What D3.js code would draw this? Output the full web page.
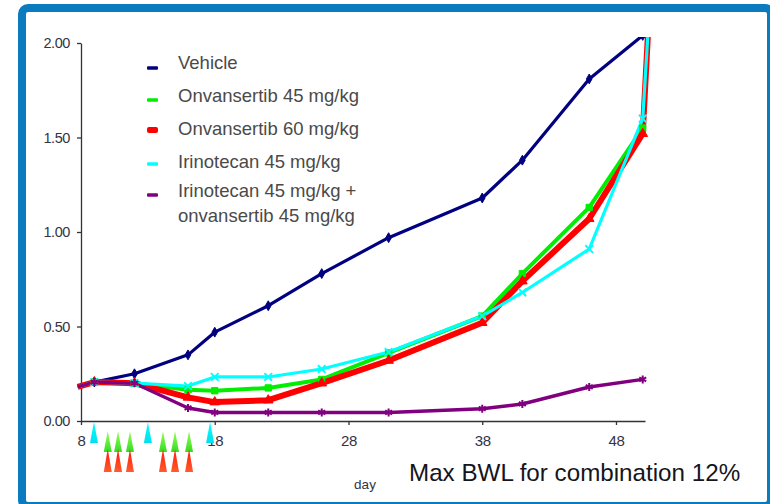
<!DOCTYPE html>
<html><head><meta charset="utf-8">
<script src="https://cdn.jsdelivr.net/npm/d3@7"></script>
<style>body{margin:0;background:#fff;}svg{display:block;font-family:"Liberation Sans",Arial,sans-serif;}</style>
</head><body>
<svg id="chart" width="770" height="504"></svg>
<script>
const days = [7.75, 9, 12, 16, 18, 22, 26, 31, 38, 41, 46, 50, 50.4];
const vehicle   = [0.18, 0.206, 0.25, 0.35, 0.47, 0.61, 0.78, 0.97, 1.18, 1.38, 1.81, 2.04];
const onv45     = [0.18, 0.206, 0.20, 0.165, 0.16, 0.175, 0.22, 0.36, 0.555, 0.78, 1.13, 1.55, 2.06];
const onv60     = [0.18, 0.206, 0.20, 0.125, 0.10, 0.11, 0.20, 0.32, 0.52, 0.74, 1.07, 1.52, 2.06];
const irino     = [0.18, 0.206, 0.20, 0.185, 0.233, 0.233, 0.275, 0.365, 0.555, 0.68, 0.91, 1.60, 2.06];
const combo     = [0.18, 0.206, 0.20, 0.069, 0.045, 0.045, 0.045, 0.045, 0.065, 0.09, 0.18, 0.22];
const seriesNames = ["Vehicle", "Onvansertib 45 mg/kg", "Onvansertib 60 mg/kg", "Irinotecan 45 mg/kg", "Irinotecan 45 mg/kg +\nonvansertib 45 mg/kg"];
const xTicks = [8, 18, 28, 38, 48];
const yTicks = [0, 0.5, 1.0, 1.5, 2.0];
const irinoDoseDays = [8.97, 13.0, 17.65];
const onvDoseDays = [10.0, 10.77, 11.66, 14.13, 15.03, 16.08];
const annotation = "Max BWL for combination 12%";
const xTitle = "day";

const series = [
  {name: seriesNames[0], vals: vehicle, color: "#000080", width: 3.2, sym: d3.symbolDiamond, size: 28, stroke: false},
  {name: seriesNames[1], vals: onv45, color: "#00ee00", width: 4, sym: d3.symbolSquare, size: 40, stroke: false},
  {name: seriesNames[2], vals: onv60, color: "#ff0000", width: 6, sym: d3.symbolTriangle, size: 40, stroke: false},
  {name: seriesNames[3], vals: irino, color: "#00ffff", width: 3.2, sym: d3.symbolTimes, size: 40, stroke: true},
  {name: seriesNames[4], vals: combo, color: "#800080", width: 3.4, sym: d3.symbolAsterisk, size: 45, stroke: true}
];

const svg = d3.select("#chart");
// frame
svg.append("rect").attr("x", 22).attr("y", 8).attr("width", 749).attr("height", 498)
  .attr("rx", 6).attr("fill", "#fff").attr("stroke", "#0a7bbf").attr("stroke-width", 8);

const x = d3.scaleLinear().domain([8, 50.17]).range([81, 645]);
const y = d3.scaleLinear().domain([0, 2]).range([421, 43]);

const defs = svg.append("defs");
defs.append("clipPath").attr("id", "clip").append("rect").attr("x", 60).attr("y", 37).attr("width", 600).attr("height", 400);
function grad(id, c1, c2) {
  const g = defs.append("linearGradient").attr("id", id).attr("x1", 0).attr("y1", 0).attr("x2", 0).attr("y2", 1);
  g.append("stop").attr("offset", "0%").attr("stop-color", c1);
  g.append("stop").attr("offset", "100%").attr("stop-color", c2);
}
grad("gC", "#00ffff", "#00e0ee");
grad("gG", "#99ff55", "#33dd22");
grad("gR", "#ff1a00", "#ff5a30");

// axes
const yAxis = svg.append("g").attr("transform", "translate(81,0)")
  .call(d3.axisLeft(y).tickValues(yTicks).tickFormat(d3.format(".2f")).tickSize(4).tickSizeOuter(0).tickPadding(7));
const xAxis = svg.append("g").attr("transform", "translate(0,421)")
  .call(d3.axisBottom(x).tickValues(xTicks).tickFormat(d3.format("d")).tickSize(4).tickSizeOuter(0).tickPadding(10));
[yAxis, xAxis].forEach(a => {
  a.select(".domain").attr("stroke", "#333").attr("stroke-width", 1.3);
  a.selectAll(".tick line").attr("stroke", "#333").attr("stroke-width", 1.3);
  a.selectAll(".tick text").attr("fill", "#333346").attr("font-family", "Liberation Sans, Arial, sans-serif");
});
yAxis.selectAll(".tick text").attr("font-size", 14.5).attr("letter-spacing", "-0.4px");
xAxis.selectAll(".tick text").attr("font-size", 15).attr("letter-spacing", "-0.3px");

// lines
const plot = svg.append("g").attr("clip-path", "url(#clip)");
const line = d3.line().x(d => x(d[0])).y(d => y(d[1]));
series.forEach(s => {
  const pts = s.vals.map((v, i) => [days[i], v]);
  plot.append("path").datum(pts).attr("fill", "none").attr("stroke", s.color)
    .attr("stroke-width", s.width).attr("stroke-linejoin", "round").attr("d", line);
});
series.forEach(s => {
  const pts = s.vals.map((v, i) => [days[i], v]).slice(1, s.vals.length);
  const sym = d3.symbol().type(s.sym).size(s.size);
  plot.selectAll(null).data(pts).enter().append("path")
    .attr("transform", d => `translate(${x(d[0])},${y(d[1])})`)
    .attr("d", sym)
    .attr("fill", s.stroke ? "none" : s.color)
    .attr("stroke", s.color).attr("stroke-width", s.stroke ? 2 : 1);
});

// dosing arrows
function tri(cx, top, bot, w) { return `M${cx},${top}L${cx + w / 2},${bot}L${cx - w / 2},${bot}Z`; }
svg.selectAll(null).data(irinoDoseDays).enter().append("path")
  .attr("d", d => tri(x(d), 422, 443, 8)).attr("fill", "url(#gC)");
svg.selectAll(null).data(onvDoseDays).enter().append("path")
  .attr("d", d => tri(x(d), 431, 452, 8)).attr("fill", "url(#gG)");
svg.selectAll(null).data(onvDoseDays).enter().append("path")
  .attr("d", d => tri(x(d), 449, 472, 8)).attr("fill", "url(#gR)");

// legend
const legY = [68, 100, 130, 164, 195];
const legBase = [[69], [102], [135], [168], [197, 222]];
const leg = svg.append("g");
series.forEach((s, i) => {
  const h = i === 2 ? 6 : 3.6;
  leg.append("rect").attr("x", 147).attr("y", legY[i] - h / 2).attr("width", 11).attr("height", h)
    .attr("rx", i === 2 ? 2 : 1).attr("fill", s.color);
  const lines = s.name.split("\n");
  lines.forEach((t, j) => {
    leg.append("text").attr("x", 178).attr("y", legBase[i][j]).attr("font-size", 18.5)
      .attr("fill", "#4a4a4a").text(t);
  });
});

svg.append("text").attr("x", 365).attr("y", 489).attr("text-anchor", "middle")
  .attr("font-size", 13.5).attr("fill", "#333346").text(xTitle);
svg.append("text").attr("x", 409).attr("y", 481).attr("font-size", 24.2)
  .attr("fill", "#151520").text(annotation);
</script>
</body></html>
